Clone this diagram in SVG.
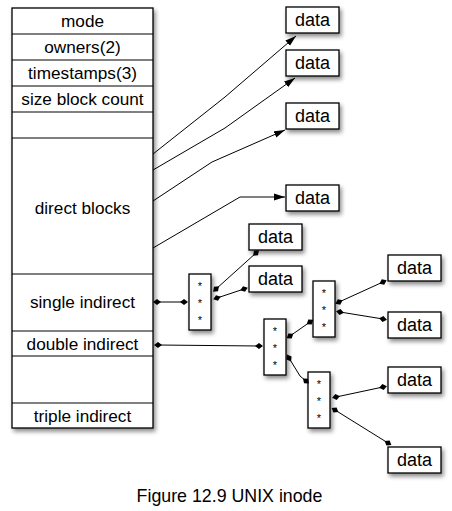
<svg xmlns="http://www.w3.org/2000/svg" width="452" height="511" viewBox="0 0 452 511">
<style>
.box{fill:#fff;stroke:#000;stroke-width:1.3;filter:url(#sh)}
.sep{stroke:#000;stroke-width:1}
.t{font-family:"Liberation Sans",Arial,sans-serif;font-size:17.2px;fill:#000;text-anchor:middle}
.d{font-family:"Liberation Sans",Arial,sans-serif;font-size:18px;fill:#000;text-anchor:middle}
.s{font-family:"Liberation Sans",Arial,sans-serif;font-size:11px;fill:#000;text-anchor:middle}
.ar{fill:none;stroke:#000;stroke-width:1;marker-end:url(#arr)}
.pt{fill:none;stroke:#000;stroke-width:1;marker-start:url(#dia);marker-end:url(#dia)}
.cap{font-family:"Liberation Sans",Arial,sans-serif;font-size:17.8px;fill:#000;text-anchor:middle}
</style>
<defs>
<filter id="sh" x="-20%" y="-20%" width="150%" height="150%">
<feDropShadow dx="2" dy="3" stdDeviation="2" flood-color="#000" flood-opacity="0.45"/>
</filter>
<marker id="arr" markerUnits="userSpaceOnUse" markerWidth="12" markerHeight="8" refX="11" refY="4" orient="auto">
<path d="M0,0.5 L11,4 L0,7.5 z" fill="#000"/>
</marker>
<marker id="dia" markerUnits="userSpaceOnUse" markerWidth="8" markerHeight="8" refX="4" refY="4" orient="auto">
<path d="M0,4 L4,1 L8,4 L4,7 z" fill="#000"/>
</marker>
</defs>
<rect width="452" height="511" fill="#fff"/>

<g id="inode">
<rect class="box" x="12" y="8" width="141" height="420"/>
<line class="sep" x1="12" y1="34" x2="153" y2="34"/>
<line class="sep" x1="12" y1="60" x2="153" y2="60"/>
<line class="sep" x1="12" y1="86" x2="153" y2="86"/>
<line class="sep" x1="12" y1="112" x2="153" y2="112"/>
<line class="sep" x1="12" y1="138" x2="153" y2="138"/>
<line class="sep" x1="12" y1="274" x2="153" y2="274"/>
<line class="sep" x1="12" y1="331" x2="153" y2="331"/>
<line class="sep" x1="12" y1="356" x2="153" y2="356"/>
<line class="sep" x1="12" y1="403" x2="153" y2="403"/>
<text class="t" x="82.5" y="27">mode</text>
<text class="t" x="82.5" y="53">owners(2)</text>
<text class="t" x="82.5" y="79">timestamps(3)</text>
<text class="t" x="82.5" y="105">size block count</text>
<text class="t" x="82.5" y="214">direct blocks</text>
<text class="t" x="82.5" y="308">single indirect</text>
<text class="t" x="82.5" y="350">double indirect</text>
<text class="t" x="82.5" y="422">triple indirect</text>
</g>

<g id="data1"><rect class="box" x="286" y="7" width="53" height="26"/><text class="d" x="312.5" y="26">data</text></g>
<g id="data2"><rect class="box" x="286" y="50" width="53" height="26"/><text class="d" x="312.5" y="69">data</text></g>
<g id="data3"><rect class="box" x="286" y="103" width="53" height="26"/><text class="d" x="312.5" y="122">data</text></g>
<g id="data4"><rect class="box" x="286" y="185" width="53" height="26"/><text class="d" x="312.5" y="204">data</text></g>
<g id="data5"><rect class="box" x="249" y="224" width="53" height="26"/><text class="d" x="275.5" y="243">data</text></g>
<g id="data6"><rect class="box" x="249" y="266" width="53" height="26"/><text class="d" x="275.5" y="285">data</text></g>
<g id="data7"><rect class="box" x="388" y="255" width="53" height="26"/><text class="d" x="414.5" y="274">data</text></g>
<g id="data8"><rect class="box" x="388" y="312" width="53" height="26"/><text class="d" x="414.5" y="331">data</text></g>
<g id="data9"><rect class="box" x="388" y="367" width="53" height="26"/><text class="d" x="414.5" y="386">data</text></g>
<g id="data10"><rect class="box" x="388" y="447" width="53" height="26"/><text class="d" x="414.5" y="466">data</text></g>

<g id="ptr1"><rect class="box" x="189" y="274" width="22" height="56"/>
<text class="s" x="200" y="290">*</text><text class="s" x="200" y="307">*</text><text class="s" x="200" y="324">*</text></g>
<g id="ptr2"><rect class="box" x="264" y="319" width="22" height="56"/>
<text class="s" x="275" y="335">*</text><text class="s" x="275" y="352">*</text><text class="s" x="275" y="369">*</text></g>
<g id="ptr3"><rect class="box" x="313" y="281" width="22" height="56"/>
<text class="s" x="324" y="297">*</text><text class="s" x="324" y="314">*</text><text class="s" x="324" y="331">*</text></g>
<g id="ptr4"><rect class="box" x="308" y="372" width="22" height="56"/>
<text class="s" x="319" y="388">*</text><text class="s" x="319" y="405">*</text><text class="s" x="319" y="422">*</text></g>

<g id="connectors">
<polyline class="ar" points="153,154 225,97 296,36"/>
<polyline class="ar" points="153,170 225,128 295,78"/>
<polyline class="ar" points="153,201 212,162 285,130"/>
<polyline class="ar" points="153,248 240,197 285,197"/>
<line class="pt" x1="157" y1="302" x2="184" y2="302"/>
<line class="pt" x1="216" y1="289" x2="256" y2="253"/>
<line class="pt" x1="217" y1="298" x2="244" y2="289"/>
<line class="pt" x1="158" y1="345" x2="259" y2="346"/>
<line class="pt" x1="290" y1="336" x2="310" y2="322"/>
<polyline class="pt" points="289,358 300,376 306,381"/>
<line class="pt" x1="339" y1="302" x2="383" y2="282"/>
<line class="pt" x1="340" y1="312" x2="383" y2="319"/>
<line class="pt" x1="336" y1="397" x2="383" y2="387"/>
<line class="pt" x1="335" y1="410" x2="388" y2="443"/>
</g>

<text class="cap" x="229.5" y="502">Figure 12.9 UNIX inode</text>
</svg>
